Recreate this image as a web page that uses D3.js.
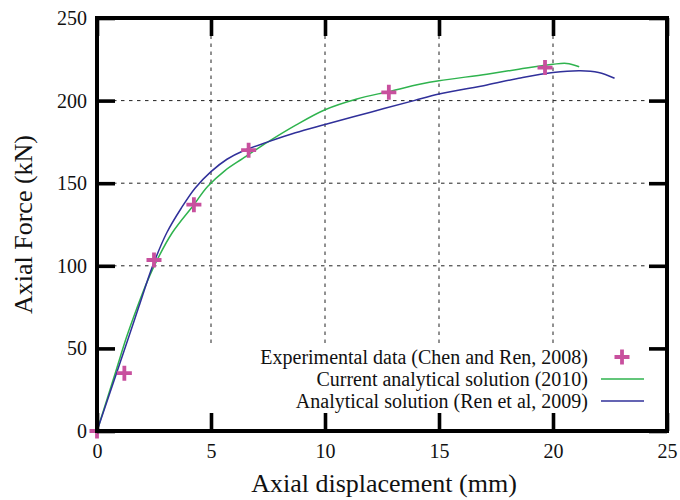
<!DOCTYPE html>
<html>
<head>
<meta charset="utf-8">
<script src="https://cdn.jsdelivr.net/npm/d3@7"></script>
<style>
body { margin: 0; background: #fff; }
svg { display: block; font-family: "Liberation Serif", "DejaVu Serif", serif; }
</style>
</head>
<body>
<svg id="chart" width="680" height="500"></svg>
<script>
// experimental points
const exp_x = [0, 1.2, 2.5, 4.25, 6.65, 12.8, 19.65];
const exp_y = [0, 35, 103.5, 137, 170, 205, 220];

// current analytical solution (2010)
const cur_x = [0, 0.8, 1.3, 1.74, 2.1, 2.51, 3.3, 4.25, 4.85, 5.6, 6.4, 7.5, 8.7, 10, 11.4, 12.8, 14.2, 15, 17.1, 18.5, 20, 20.6, 21.15];
const cur_y = [0, 35, 57, 74, 87, 100, 120, 137, 148, 157.5, 165, 175, 185, 194.5, 201, 205.5, 210, 212, 216, 219, 222, 222.5, 220.5];

// analytical solution (Ren et al, 2009)
const ren_x = [0, 1.2, 1.83, 2.43, 3.06, 3.7, 4.3, 5, 5.7, 6.4, 7.5, 8.7, 10, 12, 13.9, 15, 17.1, 18.5, 20, 21.2, 22, 22.7];
const ren_y = [0, 49, 75, 99.5, 120, 135, 147, 157, 164.5, 169.5, 175, 180.5, 185.5, 193, 200, 204, 209.5, 213.5, 217, 218.1, 217, 213.5];

const x_ticks = [0, 5, 10, 15, 20, 25];
const y_ticks = [0, 50, 100, 150, 200, 250];
const x_grid = [5, 10, 15, 20];
const y_grid = [50, 100, 150, 200];

const legend_labels = ["Experimental data (Chen and Ren, 2008)", "Current analytical solution (2010)", "Analytical solution (Ren et al, 2009)"];

const col_exp = "#c8509e";
const col_cur = "#2fb34e";
const col_ren = "#30309a";

const p_left = 97, p_right = 667, p_top = 18, p_bottom = 431;
const svg = d3.select("#chart");

const x = d3.scaleLinear().domain([0, 25]).range([p_left, p_right]);
const y = d3.scaleLinear().domain([0, 250]).range([p_bottom, p_top]);

// grid
svg.append("g").selectAll("line").data(x_grid).enter()
	.append("line")
	.attr("x1", d => x(d)).attr("x2", d => x(d))
	.attr("y1", y(0)).attr("y2", y(250))
	.style("stroke", "#222").style("stroke-width", 1).style("stroke-dasharray", "3.5,4.5");
svg.append("g").selectAll("line").data(y_grid).enter()
	.append("line")
	.attr("y1", d => y(d)).attr("y2", d => y(d))
	.attr("x1", x(0)).attr("x2", x(25))
	.style("stroke", "#222").style("stroke-width", 1).style("stroke-dasharray", "3.5,4.5");

// opaque key area
svg.append("rect")
	.attr("x", p_left).attr("y", 343).attr("width", p_right - p_left).attr("height", 70)
	.style("fill", "#fff");

const line = d3.line().x(d => x(d[0])).y(d => y(d[1])).curve(d3.curveCatmullRom.alpha(0.5));

svg.append("path")
	.datum(d3.zip(cur_x, cur_y))
	.attr("d", line)
	.style("fill", "none").style("stroke", col_cur).style("stroke-width", 1.5);
svg.append("path")
	.datum(d3.zip(ren_x, ren_y))
	.attr("d", line)
	.style("fill", "none").style("stroke", col_ren).style("stroke-width", 1.5);

const plus = (sel, cx, cy) => {
	sel.append("path")
		.attr("d", `M${cx - 7.5},${cy}H${cx + 7.5}M${cx},${cy - 7.5}V${cy + 7.5}`)
		.style("stroke", col_exp).style("stroke-width", 3.8).style("fill", "none");
};
const pts = svg.append("g");
d3.zip(exp_x, exp_y).forEach(d => plus(pts, x(d[0]), y(d[1])));

// axes with inward ticks
const styleAxis = g => {
	g.select(".domain").remove();
	g.selectAll(".tick line").style("stroke", "#000").style("stroke-width", 3.6);
	g.selectAll(".tick text").style("font-size", "20px").style("fill", "#111")
		.style("font-family", "'Liberation Serif', serif");
};
svg.append("g").attr("transform", `translate(0,${p_bottom})`)
	.call(d3.axisBottom(x).tickValues(x_ticks).tickSizeInner(-18).tickSizeOuter(0).tickPadding(13))
	.call(styleAxis);
svg.append("g").attr("transform", `translate(0,${p_top})`)
	.call(d3.axisTop(x).tickValues(x_ticks).tickSizeInner(-18).tickSizeOuter(0).tickFormat(""))
	.call(styleAxis);
svg.append("g").attr("transform", `translate(${p_left},0)`)
	.call(d3.axisLeft(y).tickValues(y_ticks).tickSizeInner(-18).tickSizeOuter(0).tickPadding(10))
	.call(styleAxis);
svg.append("g").attr("transform", `translate(${p_right},0)`)
	.call(d3.axisRight(y).tickValues(y_ticks).tickSizeInner(-18).tickSizeOuter(0).tickFormat(""))
	.call(styleAxis);

svg.append("rect")
	.attr("x", p_left).attr("y", p_top).attr("width", p_right - p_left).attr("height", p_bottom - p_top)
	.style("fill", "none").style("stroke", "#000").style("stroke-width", 4);

// key
const key_y = [357, 379, 401];
svg.append("g").selectAll("text").data(legend_labels).enter()
	.append("text")
	.attr("x", 588).attr("y", (d, i) => key_y[i])
	.attr("dy", "0.33em")
	.attr("text-anchor", "end")
	.style("font-size", "20px").style("fill", "#111")
	.text(d => d);
plus(svg, 622, key_y[0]);
svg.append("line").attr("x1", 601).attr("x2", 644).attr("y1", key_y[1]).attr("y2", key_y[1])
	.style("stroke", col_cur).style("stroke-width", 1.6);
svg.append("line").attr("x1", 601).attr("x2", 644).attr("y1", key_y[2]).attr("y2", key_y[2])
	.style("stroke", col_ren).style("stroke-width", 1.6);

// axis titles
svg.append("text")
	.attr("x", (p_left + p_right) / 2 + 2).attr("y", 492)
	.attr("text-anchor", "middle")
	.style("font-size", "26px").style("fill", "#111")
	.text("Axial displacement (mm)");
svg.append("text")
	.attr("transform", `translate(32,${(p_top + p_bottom) / 2}) rotate(-90)`)
	.attr("text-anchor", "middle")
	.style("font-size", "26px").style("fill", "#111")
	.text("Axial Force (kN)");
</script>
</body>
</html>
